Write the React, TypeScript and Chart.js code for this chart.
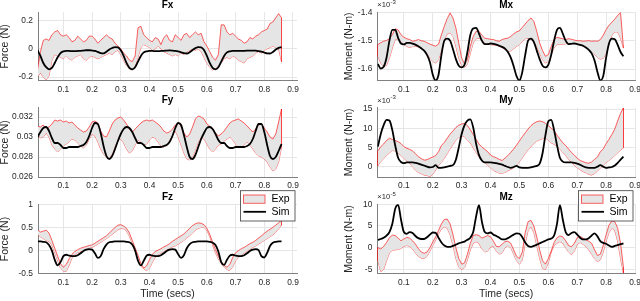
import React, { useEffect, useRef } from "react";
import { Chart, registerables } from "chart.js";

Chart.register(...registerables);

const FONT = '"Liberation Sans", Arial, Helvetica, sans-serif';
const RED = "rgba(255,0,0,0.62)";
const FILL = "#e5e5e5";
const GRID = "#e6e6e6";
const AXIS = "#808080";
const TXT = "#262626";

// ---------- data ----------
const T = [
  0.01, 0.02, 0.03, 0.04, 0.05, 0.06, 0.07, 0.08, 0.09, 0.1,
  0.11, 0.12, 0.13, 0.14, 0.15, 0.16, 0.17, 0.18, 0.19, 0.2,
  0.21, 0.22, 0.23, 0.24, 0.25, 0.26, 0.27, 0.28, 0.29, 0.3,
  0.31, 0.32, 0.33, 0.34, 0.35, 0.36, 0.37, 0.38, 0.39, 0.4,
  0.41, 0.42, 0.43, 0.44, 0.45, 0.46, 0.47, 0.48, 0.49, 0.5,
  0.51, 0.52, 0.53, 0.54, 0.55, 0.56, 0.57, 0.58, 0.59, 0.6,
  0.61, 0.62, 0.63, 0.64, 0.65, 0.66, 0.67, 0.68, 0.69, 0.7,
  0.71, 0.72, 0.73, 0.74, 0.75, 0.76, 0.77, 0.78, 0.79, 0.8,
  0.81, 0.82, 0.83, 0.84, 0.85, 0.86,
];

const X_TICKS = [0.1, 0.2, 0.3, 0.4, 0.5, 0.6, 0.7, 0.8, 0.9];
const X_TICK_LABELS = ["0.1", "0.2", "0.3", "0.4", "0.5", "0.6", "0.7", "0.8", "0.9"];
const LEGEND_LABELS = ["Exp", "Sim"];
const X_TITLE = "Time (secs)";

// Fx (N)
const FX_SIM = [
  -0.01, -0.05, -0.1, -0.13, -0.145, -0.135, -0.1, -0.06, -0.03, -0.018,
  -0.015, -0.015, -0.016, -0.016, -0.015, -0.014, -0.012, -0.01, -0.01, -0.012,
  -0.015, -0.022, -0.03, -0.032, -0.02, -0.005, 0.006, 0.012, 0.01, -0.01,
  -0.05, -0.1, -0.135, -0.145, -0.13, -0.09, -0.05, -0.025, -0.017, -0.015,
  -0.015, -0.016, -0.016, -0.015, -0.014, -0.012, -0.011, -0.012, -0.014, -0.018,
  -0.024, -0.03, -0.033, -0.024, -0.008, 0.005, 0.012, 0.011, -0.008, -0.05,
  -0.1, -0.135, -0.145, -0.13, -0.09, -0.05, -0.025, -0.017, -0.015, -0.015,
  -0.015, -0.015, -0.014, -0.013, -0.012, -0.012, -0.013, -0.016, -0.02, -0.026,
  -0.032, -0.033, -0.022, -0.005, 0.007, 0.012,
];
const FX_EXP_HI = [
  -0.15, -0.02, 0.06, 0.07, 0.06, 0.1, 0.12, 0.13, 0.1, 0.09,
  0.1, 0.08, 0.05, 0.06, 0.09, 0.07, 0.05, 0.06, 0.09, 0.09,
  0.07, 0.04, 0.06, 0.08, 0.1, 0.08, 0.07, 0.04, 0.02, 0.0,
  -0.03, -0.05, -0.08, -0.09, -0.05, 0.15, 0.16, 0.1, 0.08, 0.06,
  0.05, 0.08, 0.07, 0.03, 0.08, 0.1, 0.06, 0.05, 0.1, 0.08,
  0.06, 0.1, 0.11, 0.08, 0.1, 0.12, 0.1, 0.11, 0.05, 0.02,
  -0.02, -0.06, -0.08, -0.04, 0.17, 0.17, 0.12, 0.1, 0.11, 0.09,
  0.07, 0.06, 0.04, 0.05, 0.08, 0.07, 0.09, 0.1, 0.12, 0.13,
  0.14, 0.18, 0.19, 0.22, 0.25, 0.22,
];
const FX_EXP_LO = [
  -0.2, -0.17, -0.2, -0.22, -0.19, -0.08, -0.04, -0.05, -0.06, -0.07,
  -0.05, -0.07, -0.08, -0.06, -0.05, -0.04, -0.07, -0.08, -0.06, -0.05,
  -0.06, -0.07, -0.06, -0.05, -0.04, -0.03, -0.04, -0.02, -0.01, -0.04,
  -0.08, -0.12, -0.14, -0.15, -0.12, -0.06, 0.01, 0.03, 0.02, 0.01,
  -0.01, 0.0, 0.02, 0.0, -0.02, -0.03, -0.04, -0.05, -0.04, -0.05,
  -0.03, -0.04, -0.02, -0.01, 0.0, -0.01, 0.0, -0.02, -0.06, -0.1,
  -0.13, -0.15, -0.14, -0.12, -0.1, -0.07, -0.06, -0.07, -0.05, -0.06,
  -0.08, -0.09, -0.1, -0.07, -0.06, -0.05, -0.03, -0.02, -0.03, -0.01,
  0.0, 0.01, 0.02, 0.01, 0.0, -0.09,
];
const FX_TICKS = [-0.2, 0, 0.2];
const FX_TICK_LABELS = ["-0.2", "0", "0.2"];

// Fy (N)
const FY_SIM = [
  0.03, 0.0305, 0.0309, 0.031, 0.0306, 0.0299, 0.0294, 0.0294, 0.0292, 0.0289,
  0.0289, 0.029, 0.029, 0.029, 0.029, 0.0291, 0.0292, 0.0295, 0.0301, 0.0309,
  0.0314, 0.0313, 0.0304, 0.0291, 0.0281, 0.0278, 0.0281, 0.0288, 0.0296, 0.0303,
  0.0308, 0.031, 0.0309, 0.0305, 0.0299, 0.0294, 0.0294, 0.0292, 0.0289, 0.0289,
  0.029, 0.029, 0.029, 0.029, 0.0291, 0.0292, 0.0295, 0.0301, 0.0309, 0.0314,
  0.0312, 0.0302, 0.029, 0.028, 0.0278, 0.0282, 0.029, 0.0298, 0.0304, 0.0309,
  0.031, 0.0308, 0.0303, 0.0297, 0.0294, 0.0294, 0.0291, 0.0289, 0.0289, 0.029,
  0.029, 0.029, 0.029, 0.0291, 0.0293, 0.0298, 0.0306, 0.0313, 0.0313, 0.0305,
  0.0292, 0.0281, 0.0278, 0.028, 0.0286, 0.0293,
];
const FY_EXP_HI = [
  0.0311, 0.031, 0.0312, 0.0309, 0.031, 0.0313, 0.0317, 0.0316, 0.0317, 0.0315,
  0.0316, 0.0314, 0.0315, 0.0312, 0.0309, 0.0307, 0.0305, 0.0306, 0.031, 0.0315,
  0.0316, 0.0314, 0.0306, 0.0301, 0.03, 0.0306, 0.0313, 0.0317, 0.0319, 0.032,
  0.0317, 0.0313, 0.0308, 0.0305, 0.0308, 0.0311, 0.0314, 0.0316, 0.0317, 0.0316,
  0.0317, 0.0315, 0.0313, 0.031, 0.0306, 0.0304, 0.0305, 0.0308, 0.0312, 0.0314,
  0.0311, 0.0304, 0.03, 0.0303, 0.031, 0.0318, 0.0321, 0.032, 0.0318, 0.0313,
  0.0311, 0.0308, 0.0304, 0.0301, 0.0303, 0.0306, 0.031, 0.0314, 0.0316, 0.0317,
  0.0318, 0.0316, 0.0314, 0.0311, 0.0308, 0.0305, 0.0308, 0.0312, 0.0313, 0.0309,
  0.0305, 0.03, 0.0298, 0.0303, 0.0315, 0.0328,
];
const FY_EXP_LO = [
  0.0305, 0.0299, 0.03, 0.0304, 0.03, 0.0292, 0.0288, 0.0285, 0.0288, 0.0291,
  0.0293, 0.0295, 0.0298, 0.0297, 0.0294, 0.0291, 0.0289, 0.0292, 0.0298, 0.0303,
  0.0301, 0.0295, 0.0288, 0.0283, 0.028, 0.0279, 0.0283, 0.0291, 0.0297, 0.0298,
  0.0294, 0.0288, 0.0284, 0.0286, 0.0292, 0.0297, 0.0295, 0.0292, 0.0293, 0.0297,
  0.03, 0.0299, 0.0295, 0.0291, 0.029, 0.0292, 0.0297, 0.0302, 0.0306, 0.03,
  0.0292, 0.0284, 0.0278, 0.0277, 0.028, 0.0287, 0.0295, 0.03, 0.0298, 0.0293,
  0.0288, 0.0285, 0.0288, 0.0292, 0.0293, 0.0296, 0.0298, 0.03, 0.0297, 0.0293,
  0.029, 0.029, 0.0292, 0.0295, 0.0292, 0.0288, 0.0284, 0.0281, 0.028, 0.0278,
  0.0275, 0.027, 0.0266, 0.0268, 0.0275, 0.029,
];
const FY_TICKS = [0.026, 0.028, 0.03, 0.032];
const FY_TICK_LABELS = ["0.026", "0.028", "0.03", "0.032"];

// Fz (N)
const FZ_SIM = [
  0.2, 0.2, 0.19, 0.18, 0.12, 0.0, -0.2, -0.32, -0.25, -0.12,
  -0.09, -0.11, -0.12, -0.12, -0.1, -0.06, -0.01, 0.02, 0.03, 0.02,
  -0.06, -0.16, -0.12, 0.03, 0.13, 0.18, 0.19, 0.2, 0.2, 0.2,
  0.2, 0.19, 0.18, 0.13, 0.0, -0.22, -0.32, -0.22, -0.11, -0.09,
  -0.11, -0.12, -0.12, -0.1, -0.06, -0.01, 0.02, 0.03, 0.02, -0.08,
  -0.16, -0.1, 0.05, 0.14, 0.18, 0.19, 0.2, 0.2, 0.2, 0.2,
  0.19, 0.17, 0.12, -0.02, -0.25, -0.31, -0.2, -0.11, -0.09, -0.11,
  -0.12, -0.12, -0.1, -0.06, -0.01, 0.02, 0.03, 0.01, -0.12, -0.15,
  -0.05, 0.1, 0.17, 0.19, 0.2, 0.2,
];
const FZ_EXP_HI = [
  0.45, 0.4, 0.42, 0.44, 0.38, 0.22, 0.05, -0.12, -0.28, -0.36,
  -0.3, -0.18, -0.08, -0.02, 0.02, 0.05, 0.07, 0.09, 0.11, 0.12,
  0.16, 0.2, 0.24, 0.28, 0.32, 0.38, 0.44, 0.5, 0.55, 0.56,
  0.53, 0.48, 0.38, 0.22, 0.06, -0.1, -0.28, -0.38, -0.33, -0.2,
  -0.08, -0.02, 0.01, 0.04, 0.08, 0.11, 0.15, 0.2, 0.24, 0.28,
  0.32, 0.36, 0.42, 0.48, 0.54, 0.58, 0.6, 0.59, 0.56, 0.48,
  0.35, 0.18, 0.02, -0.12, -0.24, -0.32, -0.36, -0.3, -0.15, -0.05,
  0.0, 0.04, 0.07, 0.11, 0.15, 0.18, 0.22, 0.27, 0.32, 0.37,
  0.42, 0.46, 0.5, 0.55, 0.6, 0.66,
];
const FZ_EXP_LO = [
  0.35, 0.3, 0.26, 0.22, 0.2, 0.12, -0.05, -0.22, -0.38, -0.44,
  -0.45, -0.32, -0.16, -0.08, -0.04, -0.02, 0.0, 0.03, 0.06, 0.07,
  0.1, 0.14, 0.18, 0.22, 0.26, 0.3, 0.35, 0.4, 0.45, 0.48,
  0.47, 0.42, 0.31, 0.15, -0.02, -0.18, -0.33, -0.4, -0.43, -0.38,
  -0.25, -0.15, -0.09, -0.05, -0.02, 0.02, 0.05, 0.08, 0.1, 0.14,
  0.18, 0.22, 0.27, 0.32, 0.38, 0.44, 0.48, 0.5, 0.5, 0.44,
  0.3, 0.12, -0.05, -0.18, -0.28, -0.36, -0.41, -0.43, -0.35, -0.22,
  -0.15, -0.1, -0.05, -0.01, 0.03, 0.07, 0.1, 0.14, 0.18, 0.22,
  0.26, 0.3, 0.34, 0.4, 0.47, 0.55,
];
const FZ_TICKS = [-0.5, 0, 0.5, 1];
const FZ_TICK_LABELS = ["-0.5", "0", "0.5", "1"];

// Mx (x10^-3 N-m)
const MX_SIM = [
  -1.582, -1.598, -1.592, -1.56, -1.5, -1.462, -1.462, -1.49, -1.51, -1.513,
  -1.508, -1.508, -1.51, -1.514, -1.52, -1.527, -1.535, -1.55, -1.575, -1.62,
  -1.641, -1.62, -1.55, -1.5, -1.493, -1.5, -1.53, -1.565, -1.588, -1.594,
  -1.585, -1.54, -1.48, -1.457, -1.455, -1.475, -1.5, -1.512, -1.512, -1.51,
  -1.511, -1.514, -1.518, -1.522, -1.528, -1.54, -1.56, -1.59, -1.625, -1.641,
  -1.61, -1.55, -1.5, -1.493, -1.505, -1.535, -1.565, -1.588, -1.594, -1.585,
  -1.55, -1.5, -1.462, -1.455, -1.475, -1.5, -1.512, -1.511, -1.51, -1.512,
  -1.515, -1.518, -1.524, -1.532, -1.545, -1.57, -1.61, -1.64, -1.625, -1.56,
  -1.51, -1.493, -1.495, -1.515, -1.54, -1.555,
];
const MX_EXP_HI = [
  -1.514, -1.507, -1.502, -1.499, -1.493, -1.479, -1.458, -1.462, -1.479, -1.488,
  -1.493, -1.496, -1.502, -1.5, -1.496, -1.5, -1.502, -1.507, -1.512, -1.516,
  -1.519, -1.512, -1.479, -1.449, -1.422, -1.402, -1.42, -1.455, -1.508, -1.561,
  -1.582, -1.567, -1.52, -1.485, -1.467, -1.467, -1.481, -1.491, -1.493, -1.495,
  -1.496, -1.5, -1.502, -1.496, -1.493, -1.491, -1.485, -1.476, -1.469, -1.465,
  -1.453, -1.441, -1.429, -1.42, -1.432, -1.467, -1.508, -1.535, -1.555, -1.549,
  -1.52, -1.496, -1.488, -1.491, -1.493, -1.496, -1.493, -1.495, -1.498, -1.5,
  -1.5, -1.502, -1.501, -1.5, -1.502, -1.501, -1.502, -1.496, -1.481, -1.461,
  -1.446, -1.435, -1.424, -1.411, -1.401, -1.526,
];
const MX_EXP_LO = [
  -1.555, -1.579, -1.591, -1.587, -1.561, -1.526, -1.496, -1.493, -1.502, -1.514,
  -1.52, -1.524, -1.521, -1.52, -1.522, -1.526, -1.532, -1.544, -1.561, -1.573,
  -1.579, -1.567, -1.532, -1.496, -1.476, -1.472, -1.485, -1.52, -1.561, -1.587,
  -1.594, -1.582, -1.544, -1.508, -1.493, -1.491, -1.498, -1.507, -1.512, -1.514,
  -1.515, -1.516, -1.519, -1.524, -1.531, -1.538, -1.536, -1.528, -1.52, -1.514,
  -1.502, -1.493, -1.491, -1.496, -1.502, -1.52, -1.544, -1.567, -1.579, -1.573,
  -1.549, -1.524, -1.514, -1.512, -1.512, -1.511, -1.509, -1.508, -1.509, -1.512,
  -1.514, -1.519, -1.524, -1.531, -1.54, -1.549, -1.559, -1.565, -1.562, -1.544,
  -1.508, -1.481, -1.469, -1.469, -1.491, -1.526,
];
const MX_TICKS = [-1.6, -1.5, -1.4];
const MX_TICK_LABELS = ["-1.6", "-1.5", "-1.4"];

// My (x10^-3 N-m)
const MY_SIM = [
  5.2, 8.5, 10.8, 12.2, 12.0, 9.5, 5.5, 2.3, 1.2, 0.9,
  1.1, 1.1, 1.1, 1.0, 0.8, 0.5, 0.3, 0.0, -0.2, -0.1,
  0.4, -0.3, -0.3, -0.2, 0.0, 0.2, 0.4, 1.8, 5.0, 8.5,
  10.8, 12.0, 12.3, 10.2, 6.0, 3.0, 1.6, 1.1, 1.1, 1.1,
  1.0, 0.9, 0.7, 0.5, 0.2, -0.1, -0.3, -0.1, 0.2, -0.2,
  -0.3, -0.3, -0.3, -0.2, 0.0, 0.2, 0.8, 3.5, 8.2, 11.8,
  12.2, 9.5, 5.6, 2.3, 1.3, 1.1, 1.1, 1.1, 1.0, 0.8,
  0.5, 0.1, -0.2, -0.3, -0.3, -0.3, 0.0, 0.4, 0.0, -0.3,
  -0.2, -0.1, 0.3, 1.0, 1.8, 2.6,
];
const MY_EXP_HI = [
  4.1, 5.2, 5.9, 6.8, 7.4, 7.1, 6.8, 6.5, 6.0, 5.2,
  4.8, 4.5, 4.1, 3.4, 2.6, 2.1, 1.7, 1.8, 2.2, 2.5,
  2.9, 3.9, 5.5, 6.3, 7.4, 8.5, 9.3, 10.2, 10.8, 11.1,
  11.3, 10.7, 9.6, 8.4, 7.1, 5.9, 5.1, 4.5, 3.9, 3.0,
  2.6, 2.3, 1.9, 1.6, 2.2, 2.9, 3.7, 4.6, 5.6, 6.7,
  7.8, 8.8, 9.8, 10.7, 11.3, 11.7, 11.9, 11.7, 11.3, 10.7,
  10.0, 9.4, 8.2, 7.2, 6.2, 5.5, 4.6, 3.7, 3.0, 2.2,
  1.6, 1.3, 1.0, 0.9, 1.2, 1.9, 2.5, 3.9, 4.6, 6.0,
  7.1, 8.4, 9.8, 11.9, 13.9, 15.3,
];
const MY_EXP_LO = [
  0.3, 1.3, 2.1, 2.9, 3.6, 4.2, 4.1, 3.5, 2.9, 2.2,
  1.5, 0.8, 0.0, -0.9, -1.5, -1.8, -2.2, -2.3, -2.6, -2.0,
  -0.9, 0.3, 1.1, 2.2, 3.4, 4.6, 5.8, 6.9, 7.6, 8.0,
  7.8, 6.9, 6.2, 4.9, 3.7, 2.6, 1.6, 1.0, 0.4, -0.3,
  -1.0, -1.3, -1.7, -1.7, -1.5, -1.1, -0.7, -0.3, 0.4, 1.3,
  2.3, 3.4, 4.4, 5.3, 6.0, 6.7, 7.0, 7.3, 7.4, 6.9,
  6.2, 5.8, 5.3, 4.6, 3.7, 2.9, 1.9, 1.1, 0.4, -0.3,
  -0.8, -1.3, -1.6, -2.0, -2.2, -1.8, -1.1, -0.4, 0.3, 1.1,
  1.6, 2.2, 2.9, 3.6, 4.3, 4.9,
];
const MY_TICKS = [0, 5, 10, 15];
const MY_TICK_LABELS = ["0", "5", "10", "15"];

// Mz (x10^-5 N-m)
const MZ_SIM = [
  1.8, 2.0, 2.3, 2.8, 3.6, 5.5, 9.0, 9.9, 6.5, 3.6,
  3.2, 3.6, 3.4, 2.7, 2.2, 2.0, 2.0, 2.4, 3.0, 3.5,
  3.4, 2.3, 1.2, 0.5, 0.2, 0.2, 0.4, 0.7, 1.0, 1.2,
  1.4, 1.8, 2.3, 3.6, 7.2, 9.8, 6.0, 3.6, 3.3, 3.5,
  3.0, 2.7, 2.3, 1.9, 1.9, 2.2, 2.6, 3.0, 3.3, 3.2,
  2.4, 1.2, 0.4, 0.2, 0.4, 0.7, 1.0, 1.3, 1.6, 1.9,
  2.1, 2.8, 5.5, 9.8, 6.5, 3.6, 2.9, 3.4, 3.6, 3.0,
  2.3, 1.9, 1.9, 2.2, 2.8, 3.3, 2.6, 1.5, 1.1, 0.9,
  0.5, 0.2, 0.4, 0.6, 0.8, 1.0,
];
const MZ_EXP_HI = [
  0.0, -0.3, 0.3, 1.2, 2.3, 2.9, 2.8, 2.2, 1.6, 2.0,
  2.4, 2.2, 1.6, 0.8, -0.2, -1.0, -1.3, -1.0, 0.0, 1.3,
  2.5, 4.0, 5.5, 6.5, 6.6, 5.5, 3.0, 0.0, -2.5, -3.8,
  -3.5, -1.5, 1.0, 2.8, 3.0, 2.8, 2.2, 2.5, 2.8, 2.5,
  1.5, 0.3, 0.2, 0.8, 1.4, 1.5, 1.0, -0.5, -2.0, -2.5,
  -1.0, 3.5, 6.0, 6.3, 5.0, 2.5, -0.5, -3.0, -3.8, -2.5,
  -0.8, 1.2, 2.3, 2.7, 2.5, 1.6, 0.5, 0.2, 1.0, 2.3,
  2.6, 2.2, 1.8, 1.5, 1.0, -0.5, -1.8, -1.5, 0.5, 3.0,
  5.2, 6.2, 6.0, 4.5, 1.0, -4.5,
];
const MZ_EXP_LO = [
  -3.0, -5.5, -5.0, -3.0, -1.2, -0.6, -0.5, -0.4, -0.2, 0.3,
  0.5, 0.3, -0.3, -1.2, -2.0, -2.4, -2.5, -2.0, -0.8, 0.5,
  1.8, 3.2, 4.3, 4.8, 4.5, 3.0, 0.5, -2.5, -4.5, -5.0,
  -4.6, -2.8, -0.5, 1.0, 1.4, 1.0, -0.3, -1.0, -0.8, 0.2,
  0.3, -0.8, -1.5, -1.2, 0.0, 0.5, 0.0, -1.5, -3.0, -3.8,
  -2.8, 1.0, 4.0, 4.8, 3.5, 0.5, -2.5, -4.8, -5.0, -3.5,
  -1.0, 0.5, 1.0, 1.4, 1.0, 0.0, -1.0, -1.6, -0.8, 0.8,
  1.2, 0.8, 0.2, -0.5, -1.5, -2.6, -3.2, -2.8, -1.0, 1.5,
  3.5, 4.5, 4.0, 1.5, -2.5, -5.8,
];
const MZ_TICKS = [-5, 0, 5, 10];
const MZ_TICK_LABELS = ["-5", "0", "5", "10"];

// ---------- layout ----------
type Spec = {
  key: string;
  title: string;
  ylabel: string;
  expo?: string;
  sim: number[];
  hi: number[];
  lo: number[];
  ymin: number;
  ymax: number;
  yticks: number[];
  ylabels: string[];
  xmin: number;
  xmax: number;
  cx: number;
  cy: number;
  cw: number;
  ch: number;
  L: number;
  R: number;
  T: number;
  B: number;
  ylabelX: number;
  xlabel?: boolean;
  legend?: boolean;
};

const LEFT = { cx: 0, cw: 310, L: 38, R: 297, ylabelX: 5.5, xmin: 0.0116, xmax: 0.914 };
const RIGHT = { cx: 333, cw: 307, L: 377.3, R: 635, ylabelX: 349, xmin: 0.008, xmax: 0.9 };
const ROW1 = { cy: 0, ch: 100, T: 12.3, B: 80.4 };
const ROW2 = { cy: 92, ch: 100, T: 107.7, B: 177 };
const ROW3 = { cy: 186, ch: 115, T: 204.3, B: 273.7 };

const PANELS: Spec[] = [
  { key: "fx", title: "Fx", ylabel: "Force (N)", sim: FX_SIM, hi: FX_EXP_HI, lo: FX_EXP_LO, ymin: -0.2235, ymax: 0.259, yticks: FX_TICKS, ylabels: FX_TICK_LABELS, ...LEFT, ...ROW1 },
  { key: "fy", title: "Fy", ylabel: "Force (N)", sim: FY_SIM, hi: FY_EXP_HI, lo: FY_EXP_LO, ymin: 0.026, ymax: 0.03293, yticks: FY_TICKS, ylabels: FY_TICK_LABELS, ...LEFT, ...ROW2 },
  { key: "fz", title: "Fz", ylabel: "Force (N)", sim: FZ_SIM, hi: FZ_EXP_HI, lo: FZ_EXP_LO, ymin: -0.5, ymax: 1, yticks: FZ_TICKS, ylabels: FZ_TICK_LABELS, ...LEFT, ...ROW3, xlabel: true, legend: true },
  { key: "mx", title: "Mx", ylabel: "Moment (N-m)", expo: "-3", sim: MX_SIM, hi: MX_EXP_HI, lo: MX_EXP_LO, ymin: -1.64, ymax: -1.4, yticks: MX_TICKS, ylabels: MX_TICK_LABELS, ...RIGHT, ...ROW1 },
  { key: "my", title: "My", ylabel: "Moment (N-m)", expo: "-3", sim: MY_SIM, hi: MY_EXP_HI, lo: MY_EXP_LO, ymin: -2.7, ymax: 15.35, yticks: MY_TICKS, ylabels: MY_TICK_LABELS, ...RIGHT, ...ROW2 },
  { key: "mz", title: "Mz", ylabel: "Moment (N-m)", expo: "-5", sim: MZ_SIM, hi: MZ_EXP_HI, lo: MZ_EXP_LO, ymin: -6, ymax: 10, yticks: MZ_TICKS, ylabels: MZ_TICK_LABELS, ...RIGHT, ...ROW3, xlabel: true, legend: true },
];

function labelFor(ticks: number[], labels: string[], v: number) {
  const i = ticks.findIndex((t) => Math.abs(t - v) < 1e-9);
  return i >= 0 ? labels[i] : "";
}

function makeConfig(s: Spec): any {
  const pts = (arr: number[]) => T.map((t, i) => ({ x: t, y: arr[i] }));
  const n = T.length - 1;
  const closure = [
    { x: T[0], y: s.hi[0] },
    { x: T[0], y: s.lo[0] },
    { x: T[0], y: null },
    { x: T[n], y: s.hi[n] },
    { x: T[n], y: s.lo[n] },
  ];
  const decor = {
    id: "decor_" + s.key,
    afterDraw(chart: any) {
      const ctx = chart.ctx as CanvasRenderingContext2D;
      const a = chart.chartArea;
      ctx.save();
      // title
      ctx.fillStyle = "#000";
      ctx.font = `bold 10px ${FONT}`;
      ctx.textAlign = "center";
      ctx.textBaseline = "middle";
      ctx.fillText(s.title, (a.left + a.right) / 2, a.top - 7.3);
      // y label
      ctx.save();
      ctx.translate(s.ylabelX - s.cx, (a.top + a.bottom) / 2);
      ctx.rotate(-Math.PI / 2);
      ctx.font = `10.5px ${FONT}`;
      ctx.fillStyle = TXT;
      ctx.fillText(s.ylabel, 0, 0);
      ctx.restore();
      // exponent
      if (s.expo) {
        ctx.textAlign = "left";
        ctx.textBaseline = "alphabetic";
        ctx.fillStyle = TXT;
        ctx.font = `7.6px ${FONT}`;
        const base = a.top - 5;
        ctx.fillText("\u00d710", a.left, base);
        const w = ctx.measureText("\u00d710").width;
        ctx.font = `6px ${FONT}`;
        ctx.fillText(s.expo, a.left + w + 0.3, base - 3.4);
      }
      // x label
      if (s.xlabel) {
        ctx.fillStyle = TXT;
        ctx.font = `10.5px ${FONT}`;
        ctx.textAlign = "center";
        ctx.textBaseline = "middle";
        ctx.fillText(X_TITLE, (a.left + a.right) / 2, 294 - s.cy);
      }
      // legend
      if (s.legend) {
        const bx1 = a.right - 2;
        const bx0 = bx1 - 54.5;
        const by0 = a.top - 13.6;
        const by1 = a.top + 16.7;
        ctx.fillStyle = "#fff";
        ctx.fillRect(bx0, by0, bx1 - bx0, by1 - by0);
        ctx.strokeStyle = "#3a3a3a";
        ctx.lineWidth = 0.8;
        ctx.strokeRect(bx0, by0, bx1 - bx0, by1 - by0);
        ctx.fillStyle = FILL;
        ctx.fillRect(bx0 + 3, a.top - 9.3, 21.5, 8.3);
        ctx.strokeStyle = RED;
        ctx.lineWidth = 1;
        ctx.strokeRect(bx0 + 3, a.top - 9.3, 21.5, 8.3);
        ctx.strokeStyle = "#000";
        ctx.lineWidth = 1.8;
        ctx.beginPath();
        ctx.moveTo(bx0 + 3, a.top + 7.5);
        ctx.lineTo(bx0 + 25.5, a.top + 7.5);
        ctx.stroke();
        ctx.fillStyle = "#000";
        ctx.font = `10.5px ${FONT}`;
        ctx.textAlign = "left";
        ctx.textBaseline = "middle";
        ctx.fillText(LEGEND_LABELS[0], bx0 + 31, a.top - 5);
        ctx.fillText(LEGEND_LABELS[1], bx0 + 31, a.top + 7.5);
      }
      ctx.restore();
    },
  };

  return {
    type: "line",
    data: {
      datasets: [
        { label: LEGEND_LABELS[0], data: pts(s.hi), borderColor: RED, borderWidth: 1, backgroundColor: FILL, fill: "+1", pointRadius: 0, tension: 0, order: 2 },
        { label: "lo", data: pts(s.lo), borderColor: RED, borderWidth: 1, fill: false, pointRadius: 0, tension: 0, order: 2 },
        { label: "edge", data: closure, borderColor: RED, borderWidth: 1, fill: false, pointRadius: 0, spanGaps: false, order: 2 },
        { label: LEGEND_LABELS[1], data: pts(s.sim), borderColor: "#000", borderWidth: 1.8, fill: false, pointRadius: 0, cubicInterpolationMode: "monotone", order: 0 },
      ],
    },
    options: {
      responsive: false,
      maintainAspectRatio: false,
      animation: false,
      events: [],
      layout: { padding: { left: 0, top: s.T - s.cy, right: s.cx + s.cw - s.R, bottom: 0 } },
      plugins: { legend: { display: false }, tooltip: { enabled: false }, title: { display: false } },
      scales: {
        x: {
          type: "linear",
          min: s.xmin,
          max: s.xmax,
          afterBuildTicks: (sc: any) => {
            sc.ticks = X_TICKS.map((v) => ({ value: v }));
          },
          afterFit: (sc: any) => {
            sc.height = s.cy + s.ch - s.B;
            sc.paddingLeft = 0;
            sc.paddingRight = 0;
          },
          ticks: {
            autoSkip: false,
            maxRotation: 0,
            minRotation: 0,
            padding: 4,
            color: TXT,
            font: { family: FONT, size: 8.4 },
            callback: (v: number) => labelFor(X_TICKS, X_TICK_LABELS, v),
          },
          grid: { color: GRID, lineWidth: 1, drawTicks: false },
          border: { display: true, color: AXIS, width: 1 },
        },
        y: {
          type: "linear",
          min: s.ymin,
          max: s.ymax,
          afterBuildTicks: (sc: any) => {
            sc.ticks = s.yticks.map((v) => ({ value: v }));
          },
          afterFit: (sc: any) => {
            sc.width = s.L - s.cx;
            sc.paddingTop = 0;
            sc.paddingBottom = 0;
          },
          ticks: {
            autoSkip: false,
            padding: 5,
            color: TXT,
            font: { family: FONT, size: 8.4 },
            callback: (v: number) => labelFor(s.yticks, s.ylabels, v),
          },
          grid: { color: GRID, lineWidth: 1, drawTicks: false },
          border: { display: true, color: AXIS, width: 1 },
        },
      },
    },
    plugins: [decor],
  };
}

function Panel({ s }: { s: Spec }) {
  const ref = useRef<HTMLCanvasElement | null>(null);
  useEffect(() => {
    if (!ref.current) return;
    const chart = new Chart(ref.current, makeConfig(s));
    return () => chart.destroy();
  }, [s]);
  return (
    <canvas
      ref={ref}
      width={s.cw}
      height={s.ch}
      style={{ position: "absolute", left: s.cx, top: s.cy, width: s.cw, height: s.ch }}
    />
  );
}

export default function App() {
  return (
    <div style={{ position: "fixed", left: 0, top: 0, width: 640, height: 301, background: "#fff", overflow: "hidden" }}>
      {PANELS.map((p) => (
        <Panel key={p.key} s={p} />
      ))}
    </div>
  );
}
